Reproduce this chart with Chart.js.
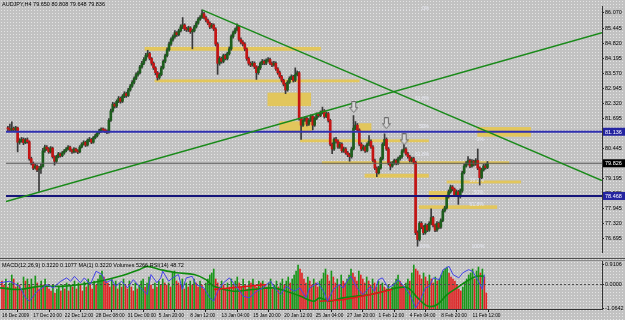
<!DOCTYPE html>
<html><head><meta charset="utf-8">
<script src="https://cdn.jsdelivr.net/npm/chart.js@4.4.1/dist/chart.umd.min.js"></script>
<style>
html,body{margin:0;padding:0;width:625px;height:320px;overflow:hidden;}
body{position:relative;background-color:#c2c2c2;background-image:radial-gradient(circle,#e4e4e4 0.7px,transparent 0.9px);background-size:3px 3px;font-family:"Liberation Sans",Arial,sans-serif;}
canvas{position:absolute;left:0;}
#main{top:0;}
#sub{top:259px;}
.sep{position:absolute;left:0;width:625px;height:1px;}
.lbl{position:absolute;font-size:5.5px;line-height:6px;color:#000;white-space:nowrap;}
</style></head>
<body>
<canvas id="main" width="625" height="258"></canvas>
<canvas id="sub" width="625" height="61"></canvas>
<div class="sep" style="top:258px;background:#505050"></div>
<div class="sep" style="top:260px;background:#8a8a8a"></div>
<div class="lbl" style="left:2px;top:1px">AUDJPY,H4 79.650 80.808 79.648 79.836</div>
<div class="lbl" style="left:2px;top:262px">MACD(12,26,9) 0.3220 0.1077 MA(1) 0.3220 Volumes 5266 RSI(14) 48.72</div>
<script>
// ---------- DATA ----------
const opens=[81.30,81.25,81.20,81.28,81.22,81.30,80.70,80.75,80.82,80.68,
80.80,80.72,80.02,79.83,79.63,79.71,79.55,79.60,79.70,80.34,
80.50,80.42,80.30,80.46,80.10,79.91,80.10,80.22,80.14,80.26,
80.34,80.42,80.50,80.38,80.30,80.42,80.34,80.30,80.50,80.62,
80.70,80.58,80.78,80.82,80.70,80.89,80.97,81.09,81.17,81.25,
81.21,81.17,81.13,81.61,82.00,82.28,82.20,82.40,82.52,82.40,
82.60,82.72,82.64,82.87,83.03,83.19,83.35,83.51,83.59,83.83,
83.98,84.14,84.30,84.38,84.18,83.98,83.79,83.59,83.39,83.51,
83.79,84.06,84.30,84.54,84.78,84.97,85.09,85.25,85.17,85.33,
85.49,85.57,85.41,85.37,85.45,85.29,85.33,85.49,85.65,85.81,
85.88,86.04,85.88,85.77,85.65,85.49,85.57,85.41,84.78,83.98,
84.18,84.06,84.30,84.18,84.38,84.58,85.09,85.25,85.37,85.49,
84.97,84.86,84.78,84.58,84.18,83.98,83.91,83.98,83.83,83.59,
83.79,83.98,84.06,83.98,84.10,84.14,83.98,83.91,83.98,83.75,
83.59,83.43,83.27,83.11,82.87,83.19,83.35,83.43,83.27,83.51,
83.59,81.69,81.41,81.61,81.69,81.45,81.61,81.77,81.41,81.69,
81.85,81.81,81.93,82.00,81.77,81.89,81.61,80.62,80.42,80.82,
80.74,80.50,80.62,80.34,80.42,80.26,80.18,80.10,80.42,81.29,
81.41,81.21,80.62,80.42,80.50,80.34,80.62,80.74,80.50,79.94,
79.63,79.43,79.63,80.02,80.62,80.82,80.42,79.83,79.71,79.83,
79.94,79.83,80.02,80.10,80.34,80.42,80.22,80.10,79.94,80.02,
79.87,76.94,76.66,77.33,77.17,76.94,77.25,77.05,77.33,77.57,
77.25,77.05,77.33,77.17,77.45,77.85,77.97,78.44,78.64,78.84,
78.76,78.52,78.64,78.44,78.68,79.43,79.71,79.83,79.94,79.71,
79.91,79.79,79.94,79.63,79.23,79.55,79.71,79.65];
const closes=[81.25,81.20,81.28,81.22,81.30,80.70,80.75,80.82,80.68,80.80,
80.72,80.02,79.83,79.63,79.71,79.55,79.60,79.70,80.34,80.50,
80.42,80.30,80.46,80.10,79.91,80.10,80.22,80.14,80.26,80.34,
80.42,80.50,80.38,80.30,80.42,80.34,80.30,80.50,80.62,80.70,
80.58,80.78,80.82,80.70,80.89,80.97,81.09,81.17,81.25,81.21,
81.17,81.13,81.61,82.00,82.28,82.20,82.40,82.52,82.40,82.60,
82.72,82.64,82.87,83.03,83.19,83.35,83.51,83.59,83.83,83.98,
84.14,84.30,84.38,84.18,83.98,83.79,83.59,83.39,83.51,83.79,
84.06,84.30,84.54,84.78,84.97,85.09,85.25,85.17,85.33,85.49,
85.57,85.41,85.37,85.45,85.29,85.33,85.49,85.65,85.81,85.88,
86.04,85.88,85.77,85.65,85.49,85.57,85.41,84.78,83.98,84.18,
84.06,84.30,84.18,84.38,84.58,85.09,85.25,85.37,85.49,84.97,
84.86,84.78,84.58,84.18,83.98,83.91,83.98,83.83,83.59,83.79,
83.98,84.06,83.98,84.10,84.14,83.98,83.91,83.98,83.75,83.59,
83.43,83.27,83.11,82.87,83.19,83.35,83.43,83.27,83.51,83.59,
81.69,81.41,81.61,81.69,81.45,81.61,81.77,81.41,81.69,81.85,
81.81,81.93,82.00,81.77,81.89,81.61,80.62,80.42,80.82,80.74,
80.50,80.62,80.34,80.42,80.26,80.18,80.10,80.42,81.29,81.41,
81.21,80.62,80.42,80.50,80.34,80.62,80.74,80.50,79.94,79.63,
79.43,79.63,80.02,80.62,80.82,80.42,79.83,79.71,79.83,79.94,
79.83,80.02,80.10,80.34,80.42,80.22,80.10,79.94,80.02,79.87,
76.94,76.66,77.33,77.17,76.94,77.25,77.05,77.33,77.57,77.25,
77.05,77.33,77.17,77.45,77.85,77.97,78.44,78.64,78.84,78.76,
78.52,78.64,78.44,78.68,79.43,79.71,79.83,79.94,79.71,79.91,
79.79,79.94,79.63,79.23,79.55,79.71,79.65,79.83];
const highs=[81.36,81.45,81.55,81.33,81.36,81.33,80.85,80.90,80.88,80.86,
80.88,80.76,80.08,79.88,79.78,79.76,79.70,79.78,80.45,80.58,
80.56,80.48,80.52,80.50,80.14,80.16,80.28,80.26,80.32,80.40,
80.48,80.56,80.54,80.42,80.48,80.46,80.40,80.56,80.68,80.76,
80.74,80.84,80.90,80.86,80.94,81.04,81.14,81.24,81.30,81.30,
81.26,81.22,81.68,82.08,82.36,82.34,82.46,82.60,82.58,82.68,
82.80,82.78,82.94,83.10,83.26,83.42,83.58,83.66,83.90,84.06,
84.22,84.40,84.52,84.44,84.22,84.04,83.84,83.64,83.58,83.86,
84.12,84.36,84.62,84.86,85.04,85.16,85.34,85.30,85.40,85.58,
85.88,85.62,85.48,85.52,85.50,85.40,85.56,85.72,85.88,85.96,
86.20,86.10,85.94,85.82,85.70,85.64,85.62,85.46,84.84,84.26,
84.24,84.36,84.36,84.44,84.66,85.16,85.32,85.44,85.62,85.54,
85.04,84.92,84.84,84.62,84.24,84.04,84.06,84.04,83.88,83.86,
84.04,84.14,84.12,84.16,84.22,84.20,84.04,84.06,84.04,83.80,
83.66,83.48,83.32,83.16,83.26,83.42,83.50,83.48,83.79,83.66,
83.64,81.74,81.68,81.76,81.74,81.68,81.84,81.82,81.76,81.92,
81.90,82.00,82.16,82.06,81.96,81.94,81.66,80.68,80.88,80.90,
80.80,80.70,80.68,80.50,80.48,80.32,80.24,80.50,81.81,81.56,
81.48,81.26,80.68,80.58,80.56,80.68,80.98,80.80,80.56,80.00,
79.68,79.70,80.08,80.68,81.05,80.88,80.48,79.88,79.90,80.00,
80.00,80.08,80.16,80.40,80.62,80.48,80.28,80.16,80.08,80.08,
79.92,77.02,77.40,77.40,77.24,77.32,77.30,77.40,77.93,77.62,
77.30,77.40,77.38,77.52,77.92,78.04,78.50,78.72,78.92,78.90,
78.80,78.72,78.70,78.76,79.50,79.78,79.90,80.10,80.00,79.98,
79.96,80.02,80.42,79.68,79.62,79.78,79.80,79.90];
const lows=[81.18,81.15,81.14,81.15,81.17,80.30,80.62,80.70,80.60,80.64,
80.66,79.95,79.76,79.56,79.58,79.48,78.66,79.40,79.66,80.28,
80.36,80.24,80.25,80.04,79.75,79.86,80.05,80.08,80.10,80.20,
80.30,80.38,80.32,80.24,80.26,80.28,80.22,80.26,80.46,80.58,
80.52,80.54,80.72,80.64,80.66,80.84,80.92,81.04,81.12,81.15,
81.10,81.06,81.08,81.56,81.95,82.12,82.14,82.34,82.32,82.35,
82.55,82.56,82.60,82.82,82.98,83.12,83.30,83.44,83.54,83.78,
83.92,84.08,84.24,84.12,83.90,83.72,83.50,83.28,83.32,83.46,
83.74,84.00,84.24,84.48,84.72,84.90,85.02,85.10,85.12,85.28,
85.42,85.34,85.30,85.30,85.22,84.58,85.28,85.44,85.60,85.76,
85.84,85.82,85.70,85.58,85.42,85.44,85.34,84.70,83.52,83.90,
83.98,84.00,84.12,84.12,84.32,84.52,85.02,85.20,85.32,84.90,
84.78,84.70,84.50,84.10,83.90,83.84,83.86,83.76,83.31,83.52,
83.72,83.92,83.92,83.92,84.04,83.92,83.84,83.86,83.68,83.52,
83.36,83.20,83.04,82.72,82.82,83.14,83.30,83.20,83.22,83.46,
81.62,80.82,81.36,81.56,81.38,81.40,81.56,81.21,81.36,81.64,
81.74,81.76,81.88,81.70,81.72,81.54,80.55,80.22,80.36,80.66,
80.44,80.44,80.28,80.28,80.20,80.10,79.91,80.04,80.38,81.22,
81.14,80.55,80.34,80.36,80.28,80.30,80.56,80.44,79.88,79.56,
79.27,79.38,79.58,79.96,80.56,80.36,79.76,79.55,79.66,79.78,
79.76,79.78,79.96,80.04,80.28,80.16,80.04,79.88,79.88,79.80,
76.86,76.38,76.60,77.10,76.86,76.88,76.98,77.00,77.28,77.18,
76.98,77.00,77.10,77.12,77.40,77.80,77.92,78.38,78.58,78.68,
78.44,78.46,78.12,78.38,78.62,79.38,79.66,79.76,79.64,79.66,
79.72,79.74,79.56,78.92,79.18,79.50,79.58,79.60];
const volumes=[2800,2400,3000,2200,2600,3400,3000,2200,2600,2400,2000,3200,2800,3000,2400,
3000,2200,3300,2600,2000,2800,2400,3000,
2200,2000,1800,2400,1600,2000,2200,1800,2400,2000,
2600,1800,2400,2200,2800,2000,2600,2400,1800,2700,2200,3000,2500,2000,2800,
2400,3000,3400,3800,3200,2800,2600,2200,3000,2400,2800,2000,2600,2200,3000,2400,2000,2800,
2200,1800,2600,2000,2400,2800,3000,2200,2600,3200,2400,2000,2600,2200,2800,2400,3000,2600,
2400,2600,2200,3600,3800,2800,2600,2400,3000,2000,2600,2200,2800,2400,3000,2600,2200,2800,2400,2000,2600,3000,3400,
3600,4000,3000,2600,2200,2800,2400,2000,2600,2200,3000,2400,2800,3200,2600,2200,3000,2400,2000,2800,2600,3000,2400,2200,2800,2600,
2800,2400,2200,2600,3000,2000,2400,2800,2200,2600,3000,2400,2800,3200,2600,3000,3400,3800,4400,4000,
3600,3000,2600,3200,2800,2400,3000,2600,2200,2800,
3000,3600,4000,3400,2800,3800,3200,2600,3000,2400,3400,2800,2600,
3000,3400,4000,3600,3200,2800,3800,3400,3000,2600,3200,2800,2400,3000,2600,2200,2800,2400,
2600,2200,2000,2400,1800,2200,2600,3000,3400,2800,2400,2200,2600,3000,2800,
3600,4400,4000,3800,3400,3000,3600,3200,2800,3400,3000,2600,3200,2800,3000,
3400,3800,4000,4200,3600,3200,3000,2800,2400,2000,1800,2200,2600,3000,3400,
3600,4000,3000,3800,4200,3600,4000,3200,1600];
const priceTicks=[86.070,85.445,84.820,84.195,83.570,82.945,82.320,81.695,81.070,80.445,79.820,79.195,78.570,77.945,77.320,76.695];
const levelValues=[81.136,79.826,78.468];
const trendUpX=[-1,306], trendUpY=[78.24,85.25];
const trendDownX=[100,306], trendDownY=[86.20,79.11];
const zoneStart=[70.4,75.5,133.7,139.8,150.5,180.6,161.7,183.7,226.0,216.8,211.7,241.8];
const zoneEnd  =[161.2,181.1,156.1,156.6,216.8,187.2,258.2,216.8,264.3,227.6,252.0,269.4];
const zoneHigh =[84.66,83.31,82.76,81.57,80.82,81.49,79.91,79.39,79.11,78.68,78.08,81.33];
const zoneLow  =[84.50,83.19,82.20,81.09,80.70,81.17,79.79,79.23,78.99,78.32,77.93,80.93];
const arrowX=[178.1,194.9,204.1], arrowY=[82.16,81.49,80.82];
const fibText=['0%','61.8%','50%','0%','61.8%','38.2%','50%','61.8%','100%','100%'];
const fibX=[213.3,209.7,211.7,241.3,209.7,237.8,239.8,237.8,210.7,238.8];
const fibY=[86.24,82.52,81.33,80.82,80.18,79.11,78.60,78.12,76.38,76.38];
const dateIdx=[0,16,32,48,64,80,96,112,128,144,160,176,192,208,224,240];
const dateLabels=['16 Dec 2009','17 Dec 20:00','22 Dec 12:00','28 Dec 08:00','31 Dec 00:00','5 Jan 20:00','8 Jan 12:00','13 Jan 04:00','15 Jan 20:00','20 Jan 12:00','25 Jan 04:00','27 Jan 20:00','1 Feb 12:00','4 Feb 04:00','8 Feb 20:00','11 Feb 12:00'];
const oscTicks=[0.9106,0,-1.0642];
const blueX=[-1,4,9,12,14,18,23,26,30,33,35,37,40,42,45,48,51,53,56,58,61,64,67,70,74,76,79,81,82,85,87,90,92,94,97,99,103,106,108,110,113,116,120,123,126,130,133,137,139,142,145,149,152,155,157,161,164,166,169,172,174,177,178,181,184,188,190,192,194,197,200,202,205,208,211,213,216,218,220,223,225,228,230,233,235,238,240,243,245,246];
const blueY=[0.08,0.15,-0.08,-0.60,-0.75,-0.30,0,-0.15,0.15,0.30,0.15,0.37,0.08,0.30,0,0.60,0.45,0.08,0.22,-0.08,0.15,-0.15,0.22,-0.08,-0.45,0.45,0.08,0.30,0.60,0.15,0.30,0.45,-0.22,0.30,0.37,0,-0.15,-0.60,-0.75,-0.30,0.08,0.30,-0.15,-0.52,-0.60,-0.30,-0.15,0.15,-0.15,-0.45,-0.08,-0.30,-0.15,-0.60,-0.15,0.08,-0.30,-0.75,-0.22,0,-0.15,0.30,0.37,-0.15,-0.45,-0.08,-0.30,0.22,0.30,-0.15,0,0.22,-0.08,-0.45,-1.05,-0.75,-0.15,-0.08,0.30,0.22,0.67,0.82,0.45,0.30,0.53,0.67,0.60,0.15,-0.22,0.45];
const greenX=[-1,9,19,30,40,50,60,70,74,81,89,98,104,108,118,128,138,145,152,159,162,167,174,181,188,195,201,207,212,217,222,227,232,237,242,246];
const greenY=[-0.15,-0.22,-0.08,-0.08,0,0.15,0.37,0.67,0.82,0.67,0.53,0.45,0.22,-0.08,-0.30,-0.22,-0.15,-0.30,-0.52,-0.75,-0.60,-0.75,-0.60,-0.52,-0.45,-0.30,-0.15,-0.15,-0.60,-0.97,-0.90,-0.45,-0.15,0.15,0.37,0.37];
const redX=[108,135,150,162,174,188,199];
const redY=[-0.22,0,null,-0.75,-0.68,-0.45,-0.22];

// ---------- CHARTS ----------
Chart.defaults.font.family='"Liberation Sans", Arial, sans-serif';
const idx=closes.map((_,i)=>i);
const pts=(xs,ys)=>xs.map((x,i)=>({x:x,y:ys[i]}));
const levelColors=['#3030b0','#5a5a5a','#16167a'];
const levelWidths=[2,1,2];

function arrowImg(){
  const c=document.createElement('canvas');c.width=9;c.height=12;
  const g=c.getContext('2d');
  g.beginPath();g.moveTo(2.5,0.5);g.lineTo(6.5,0.5);g.lineTo(6.5,6.5);g.lineTo(8.5,6.5);
  g.lineTo(4.5,11.5);g.lineTo(0.5,6.5);g.lineTo(2.5,6.5);g.closePath();
  g.fillStyle='#d6d6d6';g.fill();g.strokeStyle='#6a6a6a';g.lineWidth=1;g.stroke();
  return c;
}

const zonePlugin={id:'zones',beforeDatasetsDraw(c){
  const {ctx,scales:{x,y}}=c;ctx.save();
  ctx.fillStyle='#e2c65c';
  zoneStart.forEach((s,i)=>{
    const x1=x.getPixelForValue(s),x2=x.getPixelForValue(zoneEnd[i]);
    const y1=y.getPixelForValue(zoneHigh[i]),y2=y.getPixelForValue(zoneLow[i]);
    ctx.fillRect(x1,y1,x2-x1,y2-y1);
  });
  ctx.font='5px "Liberation Sans"';ctx.fillStyle='#e6e8f2';ctx.textBaseline='middle';
  fibText.forEach((t,i)=>ctx.fillText(t,x.getPixelForValue(fibX[i]),y.getPixelForValue(fibY[i])));
  ctx.restore();
}};
const tagPlugin={id:'tags',afterDraw(c){
  const {ctx,scales:{y},chartArea}=c;ctx.save();
  const bg=['#2424a0','#000000','#2424a0'];
  ctx.font='5.5px "Liberation Sans"';ctx.textBaseline='middle';
  levelValues.forEach((v,i)=>{
    const py=y.getPixelForValue(v);
    ctx.fillStyle=bg[i];ctx.fillRect(chartArea.right+1,py-4,22,8);
    ctx.fillStyle='#ffffff';ctx.fillText(v.toFixed(3),chartArea.right+3,py+0.5);
  });
  ctx.restore();
}};

const lineDs=(data,color,width,extra)=>Object.assign({type:'line',data:data,borderColor:color,borderWidth:width,pointRadius:0,fill:false,order:-2},extra||{});

new Chart(document.getElementById('main'),{
  type:'bar',
  data:{datasets:[
    ...levelValues.map((v,i)=>lineDs([{x:-1,y:v},{x:306,y:v}],levelColors[i],levelWidths[i],{order:-1})),
    lineDs([{x:100,y:86.20},{x:215,y:86.20}],'rgba(232,232,240,0.9)',1,{borderDash:[1,2],order:-1}),
    lineDs(pts(trendUpX,trendUpY),'#1a8a1a',1.5),
    lineDs(pts(trendDownX,trendDownY),'#1a8a1a',1.5),
    {type:'line',data:pts(arrowX,arrowY),showLine:false,pointStyle:arrowImg(),pointRadius:5,order:-3},
    {data:idx.map(i=>({x:i,y:[opens[i],closes[i]]})),backgroundColor:idx.map(i=>closes[i]>=opens[i]?'#1d5e1d':'#c41414'),barThickness:2,minBarLength:1,grouped:false,order:0},
    {data:idx.map(i=>({x:i,y:[lows[i],highs[i]]})),backgroundColor:'#3a3a3a',barThickness:1,grouped:false,order:1}
  ]},
  options:{responsive:false,animation:false,events:[],devicePixelRatio:1,layout:{padding:0},
    plugins:{legend:{display:false},tooltip:{enabled:false}},
    scales:{
      x:{type:'linear',min:-1,max:306,offset:false,display:false},
      y:{position:'right',min:76.14,max:86.36,
        afterBuildTicks:s=>{s.ticks=priceTicks.map(v=>({value:v}));},
        afterFit:s=>{s.width=23;s.paddingTop=0;s.paddingBottom=0;},
        ticks:{font:{size:5.5},color:'#000',padding:1,callback:v=>Number(v).toFixed(3)},
        grid:{drawOnChartArea:false,tickLength:2,color:'#222'},
        border:{display:true,color:'#333',width:1}}
    }},
  plugins:[zonePlugin,tagPlugin]
});

new Chart(document.getElementById('sub'),{
  type:'bar',
  data:{datasets:[
    lineDs([{x:-1,y:0},{x:306,y:0}],'#4a4a4a',1,{yAxisID:'osc',borderDash:[2,2],order:-1}),
    lineDs(pts(greenX,greenY),'#0e8a0e',1.6,{yAxisID:'osc',tension:0.35,order:-2}),
    lineDs(pts(redX,redY),'#e01818',1.5,{yAxisID:'osc',spanGaps:false,order:-3}),
    lineDs(pts(blueX,blueY),'#4444e6',1,{yAxisID:'osc',order:-4}),
    {data:idx.map(i=>({x:i,y:volumes[i]})),yAxisID:'vol',backgroundColor:volumes.map((v,i)=>(i>0&&v>volumes[i-1])?'#1a961a':'#e02424'),barThickness:1,grouped:false,order:1}
  ]},
  options:{responsive:false,animation:false,events:[],devicePixelRatio:1,layout:{padding:{top:2}},
    plugins:{legend:{display:false},tooltip:{enabled:false}},
    scales:{
      x:{type:'linear',min:-1,max:306,offset:false,position:'bottom',
        afterBuildTicks:s=>{s.ticks=dateIdx.map(v=>({value:v}));},
        afterFit:s=>{s.height=11;s.paddingLeft=0;s.paddingRight=0;},
        ticks:{autoSkip:false,maxRotation:0,minRotation:0,align:'start',font:{size:4.8},color:'#000',padding:1,
          callback:v=>dateLabels[dateIdx.indexOf(v)]},
        grid:{drawOnChartArea:false,tickLength:3,color:'#222'},
        border:{display:true,color:'#333'}},
      vol:{type:'linear',display:false,min:0,max:4800},
      osc:{type:'linear',position:'right',min:-1.10,max:1.06,
        afterBuildTicks:s=>{s.ticks=oscTicks.map(v=>({value:v}));},
        afterFit:s=>{s.width=23;s.paddingTop=0;s.paddingBottom=0;},
        ticks:{font:{size:5.5},color:'#000',padding:1,callback:v=>Number(v).toFixed(4)},
        grid:{drawOnChartArea:false,tickLength:2,color:'#222'},
        border:{display:true,color:'#333'}}
    }}
});
</script>
</body></html>
